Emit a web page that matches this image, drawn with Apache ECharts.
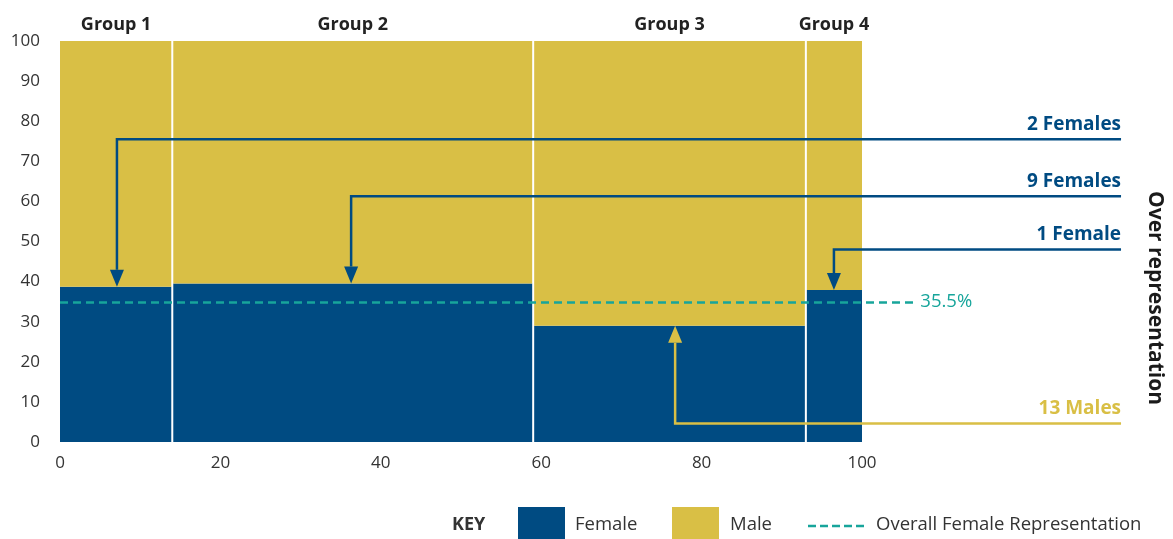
<!DOCTYPE html>
<html>
<head>
<meta charset="utf-8">
<script src="https://cdn.jsdelivr.net/npm/echarts@6/dist/echarts.min.js"></script>
<style>html,body{margin:0;padding:0;background:#fff}#c{width:1173px;height:539px}</style>
</head>
<body>
<div id="c"></div>
<script>
// ---- data ----
const groups = ['Group 1', 'Group 2', 'Group 3', 'Group 4'];
const groupWidths = [14, 45, 34, 7];
const femaleShare = [38.7, 39.5, 29.0, 37.9];
const overallFemale = 34.8;
const overallLabel = '35.5%';
const annoLabels = ['2 Females', '9 Females', '1 Female', '13 Males'];
const annoX = [7.1, 36.3, 96.5, 76.7];
const annoLevel = [75.5, 61.3, 48.0, 4.6];
const annoGroup = [0, 1, 3, 2];
const xTicks = [0, 20, 40, 60, 80, 100];

// ---- styles ----
const FEMALE = '#004b82';
const MALE = '#d9bf45';
const TEAL = '#17a59b';
const FONT = '"Open Sans", "DejaVu Sans", sans-serif';
const annoColors = [FEMALE, FEMALE, FEMALE, MALE];
const annoRightX = 132.3;
const dashEndX = 106.4;

const starts = [];
let acc = 0;
groupWidths.forEach(w => { starts.push(acc); acc += w; });
const mekkoData = groups.map((g, i) => [starts[i], starts[i] + groupWidths[i], femaleShare[i]]);
const annoData = annoLabels.map((l, i) => [annoX[i], annoLevel[i], femaleShare[annoGroup[i]]]);

const chart = echarts.init(document.getElementById('c'), null, {renderer: 'canvas'});
chart.setOption({
  animation: false,
  textStyle: {fontFamily: FONT},
  grid: {left: 60, right: 311, top: 41, bottom: 97, containLabel: false},
  xAxis: {
    type: 'value', min: 0, max: 100, interval: 20,
    axisLine: {show: false}, axisTick: {show: false}, splitLine: {show: false},
    axisLabel: {color: '#333', fontSize: 17, margin: 13, fontFamily: FONT,
      customValues: xTicks}
  },
  yAxis: {
    type: 'value', min: 0, max: 100, interval: 10,
    axisLine: {show: false}, axisTick: {show: false}, splitLine: {show: false},
    axisLabel: {color: '#333', fontSize: 17, margin: 20, fontFamily: FONT}
  },
  series: [
    {
      type: 'custom',
      data: mekkoData,
      encode: {x: [0, 1], y: 2},
      renderItem: function (params, api) {
        const x0 = api.value(0), x1 = api.value(1), f = api.value(2);
        const pB0 = api.coord([x0, 0]);
        const pF = api.coord([x1, f]);
        const pT = api.coord([x1, 100]);
        const li = x0 > 0 ? 1 : 0;
        const ri = x1 < 100 ? 1 : 0;
        const left = pB0[0] + li, right = pF[0] - ri;
        const w = right - left;
        return {
          type: 'group',
          children: [
            {type: 'rect', shape: {x: left, y: pF[1], width: w, height: pB0[1] - pF[1]}, style: {fill: FEMALE}},
            {type: 'rect', shape: {x: left, y: pT[1], width: w, height: pF[1] - pT[1]}, style: {fill: MALE}},
            {type: 'text', x: (pB0[0] + pF[0]) / 2, y: pT[1] - 16,
              style: {text: groups[params.dataIndex], fill: '#222', font: 'bold 18px ' + FONT, align: 'center', verticalAlign: 'middle'}}
          ]
        };
      }
    },
    {
      type: 'custom',
      data: [[overallFemale]],
      encode: {y: 0},
      renderItem: function (params, api) {
        const v = api.value(0);
        const a = api.coord([0, v]);
        const b = api.coord([dashEndX, v]);
        return {
          type: 'group',
          children: [
            {type: 'line', shape: {x1: a[0], y1: a[1], x2: b[0], y2: b[1]},
              style: {stroke: TEAL, lineWidth: 2.5, lineDash: [8, 5]}},
            {type: 'text', x: b[0] + 7, y: b[1] - 1,
              style: {text: overallLabel, fill: TEAL, font: '18.5px ' + FONT, align: 'left', verticalAlign: 'middle'}}
          ]
        };
      }
    },
    {
      type: 'custom',
      data: annoData,
      encode: {x: 0, y: 1},
      renderItem: function (params, api) {
        const i = params.dataIndex;
        const col = annoColors[i];
        const x = api.value(0), lvl = api.value(1), tgt = api.value(2);
        const pR = api.coord([annoRightX, lvl]);
        const pC = api.coord([x, lvl]);
        const pT = api.coord([x, tgt]);
        const dir = pT[1] > pC[1] ? 1 : -1;
        const head = 17, hw = 7;
        const baseY = pT[1] - dir * head;
        return {
          type: 'group',
          children: [
            {type: 'polyline', shape: {points: [pR, pC, [pC[0], baseY]]},
              style: {stroke: col, lineWidth: 2.5, fill: null}},
            {type: 'polygon', shape: {points: [[pT[0] - hw, baseY], [pT[0] + hw, baseY], [pT[0], pT[1]]]},
              style: {fill: col}},
            {type: 'text', x: pR[0], y: pR[1] - 5,
              style: {text: annoLabels[i], fill: col, font: 'bold 19px ' + FONT, align: 'right', verticalAlign: 'bottom'}}
          ]
        };
      }
    }
  ],
  graphic: [
    {type: 'text', x: 1155, y: 298, rotation: -Math.PI / 2,
      style: {text: 'Over representation', fill: '#1a1a1a', font: 'bold 21px ' + FONT, align: 'center', verticalAlign: 'middle'}},
    {type: 'text', x: 452, y: 525, style: {text: 'KEY', fill: '#333', font: 'bold 18px ' + FONT, align: 'left', verticalAlign: 'middle'}},
    {type: 'rect', shape: {x: 518, y: 507, width: 47, height: 33}, style: {fill: FEMALE}},
    {type: 'text', x: 575, y: 525, style: {text: 'Female', fill: '#333', font: '18.5px ' + FONT, align: 'left', verticalAlign: 'middle'}},
    {type: 'rect', shape: {x: 672, y: 507, width: 47, height: 33}, style: {fill: MALE}},
    {type: 'text', x: 730, y: 525, style: {text: 'Male', fill: '#333', font: '18.5px ' + FONT, align: 'left', verticalAlign: 'middle'}},
    {type: 'line', shape: {x1: 808, y1: 526, x2: 866, y2: 526}, style: {stroke: TEAL, lineWidth: 2.5, lineDash: [8, 4]}},
    {type: 'text', x: 876, y: 525, style: {text: 'Overall Female Representation', fill: '#333', font: '18.5px ' + FONT, align: 'left', verticalAlign: 'middle'}}
  ]
});
</script>
</body>
</html>
